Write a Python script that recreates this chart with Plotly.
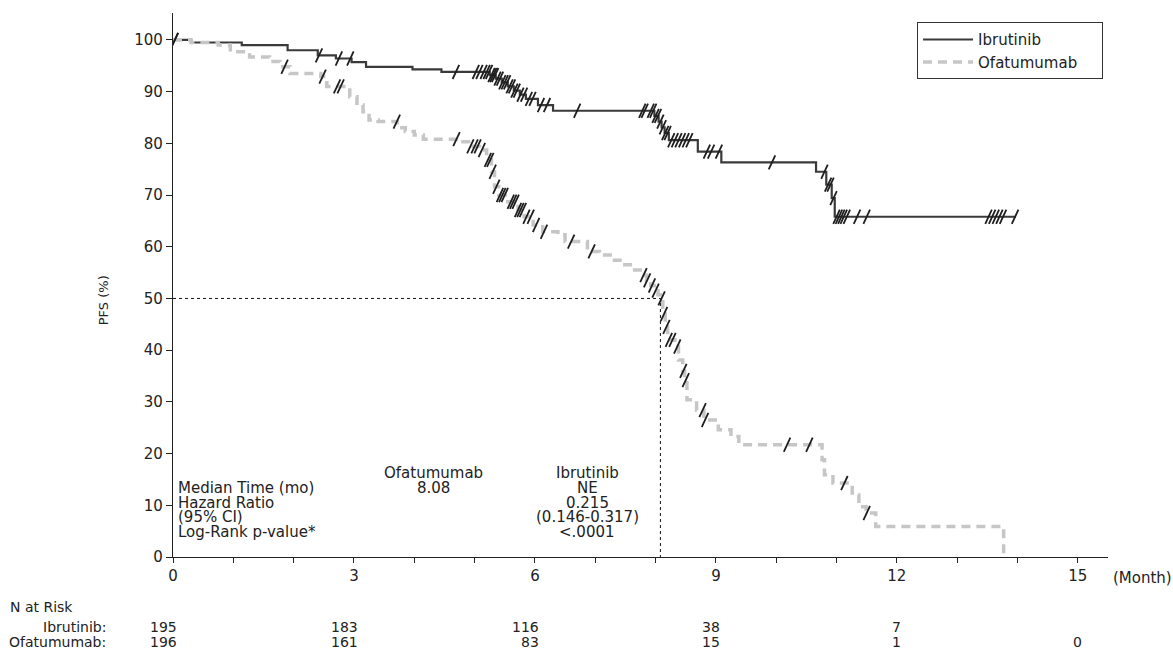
import numpy as np
import plotly.graph_objects as go

# ---------------- data ----------------
ibr_times = [0, 0.3, 1.14, 1.9, 2.4, 2.7, 2.96, 3.2, 3.97, 4.45, 5.25, 5.35, 5.45, 5.55, 5.65,
             5.75, 5.85, 6.05, 6.3, 7.98, 8.05, 8.1, 8.15, 8.22, 8.7, 9.09, 10.66, 10.83, 10.92, 10.97]
ibr_surv = [100, 99.5, 99.0, 98.0, 97.0, 96.4, 95.7, 94.8, 94.3, 93.8, 93.2, 92.5, 91.8, 91.0, 90.2,
            89.4, 88.6, 87.4, 86.3, 85.3, 84.2, 83.1, 82.0, 80.6, 78.4, 76.3, 74.5, 72.0, 69.4, 65.8]
ibr_end = 13.97
ibr_censor = [0.03, 2.42, 2.75, 2.94, 4.69, 5.02, 5.08, 5.15, 5.2, 5.24, 5.28, 5.31, 5.34, 5.38, 5.42,
              5.46, 5.5, 5.54, 5.58, 5.62, 5.66, 5.7, 5.76, 5.82, 5.9, 5.96, 6.1, 6.2, 6.7, 7.78, 7.82,
              7.92, 7.96, 8.0, 8.04, 8.08, 8.12, 8.16, 8.2, 8.26, 8.32, 8.38, 8.44, 8.5, 8.56, 8.85,
              8.92, 9.05, 9.93, 10.8, 10.86, 10.9, 10.95, 11.0, 11.04, 11.08, 11.12, 11.17, 11.34, 11.5,
              13.52, 13.58, 13.64, 13.7, 13.76, 13.96]

ofa_times = [0, 0.3, 0.75, 0.95, 1.27, 1.6, 1.77, 1.94, 2.45, 2.55, 2.93, 3.05, 3.15, 3.25, 3.4,
             3.72, 3.85, 4.0, 4.15, 4.72, 4.9, 5.08, 5.2, 5.28, 5.33, 5.4, 5.55, 5.72, 5.82, 5.97,
             6.13, 6.38, 6.5, 6.87, 7.07, 7.28, 7.45, 7.62, 7.78, 7.85, 7.92, 7.98, 8.04, 8.08, 8.12,
             8.16, 8.2, 8.32, 8.38, 8.45, 8.48, 8.52, 8.68, 8.8, 9.04, 9.25, 9.38, 10.76, 10.8, 10.94,
             11.26, 11.37, 11.49, 11.65, 13.77]
ofa_surv = [100, 99.5, 99.0, 97.7, 96.7, 95.8, 94.8, 93.5, 92.9, 91.0, 89.0, 87.4, 86.1, 84.5, 84.2,
            83.0, 82.3, 81.6, 80.8, 80.3, 79.4, 78.7, 76.8, 74.5, 71.6, 70.0, 68.7, 67.1, 65.8, 64.2,
            62.9, 62.3, 61.0, 59.1, 58.4, 57.4, 56.5, 55.5, 54.5, 53.5, 52.5, 51.5, 50.7, 50.0, 47.0,
            44.5, 42.0, 40.7, 38.1, 36.0, 34.2, 30.4, 28.4, 26.5, 24.6, 23.3, 21.7, 18.8, 15.9, 14.3,
            12.0, 9.7, 8.5, 5.9, 0]
ofa_censor = [0.03, 1.85, 2.48, 2.72, 2.78, 3.71, 4.7, 4.93, 5.0, 5.05, 5.12, 5.22, 5.26, 5.3, 5.36,
              5.42, 5.46, 5.5, 5.6, 5.64, 5.68, 5.72, 5.76, 5.8, 5.86, 5.93, 6.02, 6.15, 6.6, 6.94,
              7.8, 7.86, 7.94, 8.0, 8.1, 8.14, 8.18, 8.22, 8.28, 8.36, 8.46, 8.5, 8.78, 8.82, 10.18,
              10.55, 11.13, 11.5]

median_ofa = 8.08
risk_times = [0, 3, 6, 9, 12, 15]
ibr_risk = [195, 183, 116, 38, 7, None]
ofa_risk = [196, 161, 83, 15, 1, 0]

stat_labels = ["Median Time (mo)", "Hazard Ratio", "(95% CI)", "Log-Rank p-value*"]
ofa_stats = ["8.08", "", "", ""]
ibr_stats = ["NE", "0.215", "(0.146-0.317)", "<.0001"]

# ---------------- helpers ----------------
def step_at(times, surv, t):
    idx = np.searchsorted(np.array(times), np.array(t), side="right") - 1
    return np.array(surv)[idx]

FONT = "DejaVu Sans"
TXT = "#222222"
NB = "\u00a0"
fig = go.Figure()

# curves
fig.add_trace(go.Scatter(x=ibr_times + [ibr_end], y=ibr_surv + [ibr_surv[-1]], mode="lines",
                         line=dict(shape="hv", color="#3a3a3a", width=2.2), name="Ibrutinib" + NB * 8))
fig.add_trace(go.Scatter(x=ofa_times, y=ofa_surv, mode="lines",
                         line=dict(shape="hv", color="#c6c6c6", width=3.5, dash="9px,6px"),
                         name="Ofatumumab" + NB * 4))

# censor marks
for times, surv, cens in [(ibr_times, ibr_surv, ibr_censor), (ofa_times, ofa_surv, ofa_censor)]:
    fig.add_trace(go.Scatter(x=cens, y=step_at(times, surv, cens), mode="markers", showlegend=False,
                             hoverinfo="skip",
                             marker=dict(symbol="line-ne", size=11, angle=-20,
                                         line=dict(color="#1e1e1e", width=1.8))))

# median lines
fig.add_trace(go.Scatter(x=[0, median_ofa, median_ofa], y=[50, 50, 0], mode="lines", showlegend=False,
                         hoverinfo="skip", line=dict(color="#111111", width=1, dash="dot")))

ann = []
SF = dict(size=15)
# stats block
row_y = [13.3, 10.4, 7.7, 4.8]
ann.append(dict(x=4.32, y=16.2, xref="x", yref="y", text="Ofatumumab", showarrow=False,
                xanchor="center", yanchor="middle", font=SF))
ann.append(dict(x=6.87, y=16.2, xref="x", yref="y", text="Ibrutinib", showarrow=False,
                xanchor="center", yanchor="middle", font=SF))
for lab, ov, iv, yy in zip(stat_labels, ofa_stats, ibr_stats, row_y):
    ann.append(dict(x=0.05, y=yy, xref="x", yref="y", text=lab, showarrow=False,
                    xanchor="left", yanchor="middle", font=SF))
    if ov:
        ann.append(dict(x=4.32, y=yy, xref="x", yref="y", text=ov, showarrow=False,
                        xanchor="center", yanchor="middle", font=SF))
    ann.append(dict(x=6.87, y=yy, xref="x", yref="y", text=iv, showarrow=False,
                    xanchor="center", yanchor="middle", font=SF))

# y title
ann.append(dict(x=-0.085, y=0.472, xref="paper", yref="paper", text="PFS (%)", textangle=-90,
                showarrow=False, font=dict(size=13)))
# (Month)
ann.append(dict(x=1.003, y=-0.0386, xref="paper", yref="paper", text="(Month)", showarrow=False,
                xanchor="left", yanchor="middle"))

# N at risk table
TF = dict(size=14)
ann.append(dict(x=-0.177, y=-0.092, xref="paper", yref="paper", text="N at Risk", showarrow=False,
                xanchor="left", yanchor="middle", font=TF))
ann.append(dict(x=-0.07, y=-0.128, xref="paper", yref="paper", text="Ibrutinib:", showarrow=False,
                xanchor="right", yanchor="middle", font=TF))
ann.append(dict(x=-0.07, y=-0.156, xref="paper", yref="paper", text="Ofatumumab:", showarrow=False,
                xanchor="right", yanchor="middle", font=TF))
for t, a, b in zip(risk_times, ibr_risk, ofa_risk):
    if a is not None:
        ann.append(dict(x=t, y=-0.128, xref="x", yref="paper", text=str(a), showarrow=False,
                        xanchor="right", yanchor="middle", xshift=6, font=TF))
    if b is not None:
        ann.append(dict(x=t, y=-0.156, xref="x", yref="paper", text=str(b), showarrow=False,
                        xanchor="right", yanchor="middle", xshift=6, font=TF))

fig.update_layout(
    width=1173, height=652,
    margin=dict(l=173, r=65, t=13, b=95),
    paper_bgcolor="white", plot_bgcolor="white",
    font=dict(family=FONT, size=15, color=TXT),
    annotations=ann,
    showlegend=True,
    legend=dict(x=0.9947, y=0.983, xanchor="right", yanchor="top", bgcolor="white",
                bordercolor="#333333", borderwidth=1, font=dict(size=15, color=TXT),
                tracegroupgap=0, itemwidth=50),
    xaxis=dict(range=[0, 15.5], tickvals=risk_times, ticks="outside", ticklen=5, tickwidth=1,
               tickcolor="#222", showline=True, linecolor="#222", linewidth=1.2, showgrid=False,
               zeroline=False, tickfont=dict(size=15),
               minor=dict(dtick=1, tick0=0, ticks="outside", ticklen=5, tickcolor="#222", showgrid=False)),
    yaxis=dict(range=[0, 105.2], tickvals=list(range(0, 101, 10)), ticks="outside", ticklen=6,
               tickcolor="#222", showline=True, linecolor="#222", linewidth=1.2, showgrid=False,
               zeroline=False, tickfont=dict(size=15)),
)

fig.write_html("out.html", config={"displayModeBar": False},
               post_script="document.body.style.margin='0';document.body.style.overflow='hidden';")
